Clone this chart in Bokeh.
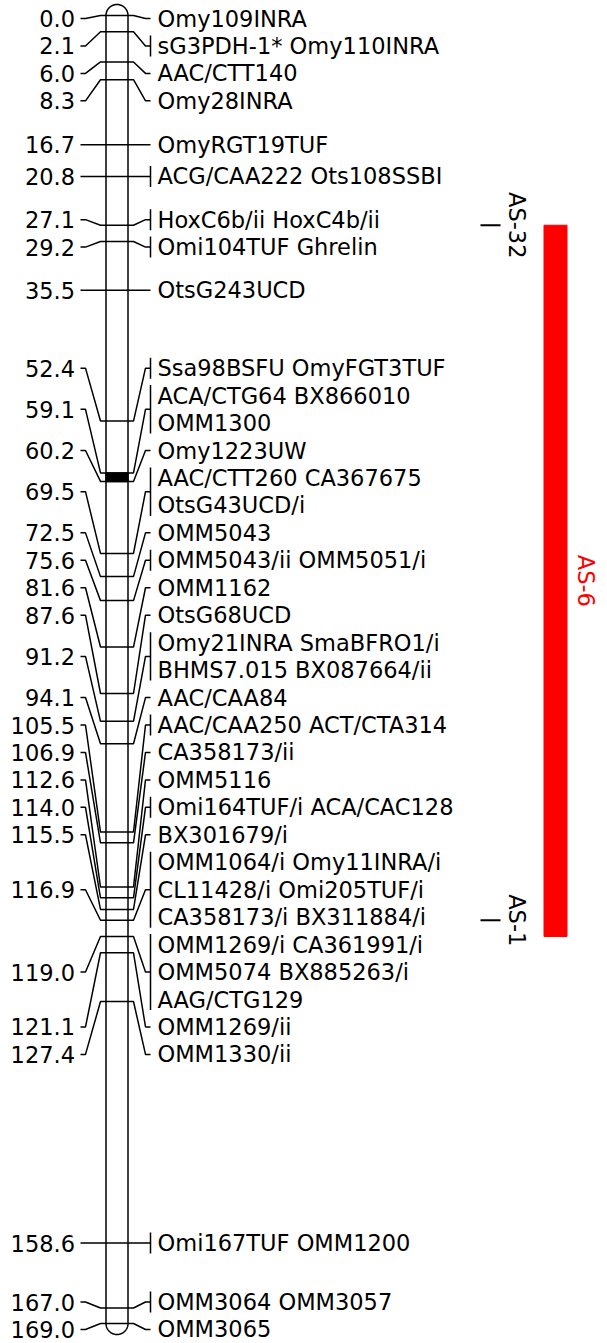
import numpy as np
from bokeh.plotting import figure
from bokeh.models import Range1d, ColumnDataSource
from bokeh.core.properties import value
from bokeh.embed import file_html
from bokeh.resources import INLINE

# ---------------- data ----------------
positions = [0.0, 2.1, 6.0, 8.3, 16.7, 20.8, 27.1, 29.2, 35.5, 52.4, 59.1, 60.2,
             69.5, 72.5, 75.6, 81.6, 87.6, 91.2, 94.1, 105.5, 106.9, 112.6, 114.0,
             115.5, 116.9, 119.0, 121.1, 127.4, 158.6, 167.0, 169.0]

markers = [
    ["Omy109INRA"],
    ["sG3PDH-1*", "Omy110INRA"],
    ["AAC/CTT140"],
    ["Omy28INRA"],
    ["OmyRGT19TUF"],
    ["ACG/CAA222", "Ots108SSBI"],
    ["HoxC6b/ii", "HoxC4b/ii"],
    ["Omi104TUF", "Ghrelin"],
    ["OtsG243UCD"],
    ["Ssa98BSFU", "OmyFGT3TUF"],
    ["ACA/CTG64", "BX866010", "OMM1300"],
    ["Omy1223UW"],
    ["AAC/CTT260", "CA367675", "OtsG43UCD/i"],
    ["OMM5043"],
    ["OMM5043/ii", "OMM5051/i"],
    ["OMM1162"],
    ["OtsG68UCD"],
    ["Omy21INRA", "SmaBFRO1/i", "BHMS7.015", "BX087664/ii"],
    ["AAC/CAA84"],
    ["AAC/CAA250", "ACT/CTA314"],
    ["CA358173/ii"],
    ["OMM5116"],
    ["Omi164TUF/i", "ACA/CAC128"],
    ["BX301679/i"],
    ["OMM1064/i", "Omy11INRA/i", "CL11428/i", "Omi205TUF/i", "CA358173/i", "BX311884/i"],
    ["OMM1269/i", "CA361991/i", "OMM5074", "BX885263/i", "AAG/CTG129"],
    ["OMM1269/ii"],
    ["OMM1330/ii"],
    ["Omi167TUF", "OMM1200"],
    ["OMM3064", "OMM3057"],
    ["OMM3065"],
]

dense_interval = [59.1, 60.2]          # solid black segment on the chromosome
qtl_names = ["AS-32", "AS-1"]
qtl_positions = [27.1, 116.9]
region_name = "AS-6"
region_interval = [27.1, 119.0]

# ---------------- layout ----------------
W, H = 607, 1343
FONT = value("DejaVu Sans")
FS = "22.5px"
y0_px, yend_px = 15.0, 1323.0          # px of chromosome start / end
chrom_len = positions[-1]
k = (yend_px - y0_px) / chrom_len      # px per cM
y_top = -y0_px / k
y_bot = y_top + H / k

LINE_PX = 27.45
s = LINE_PX / k
label_min = 3.0 / k

CH_L, CH_R = 105.5, 127.5
cx = (CH_L + CH_R) / 2
r = (CH_R - CH_L) / 2

# build label lines (2 marker names per line)
group_lines = []
for mk in markers:
    group_lines.append([" ".join(mk[i:i + 2]) for i in range(0, len(mk), 2)])

# blocks of groups: spread overlapping labels
blocks = []
for gi, (pos, lines) in enumerate(zip(positions, group_lines)):
    n = len(lines)
    blocks.append({"groups": [gi], "n": n,
                   "dfirst": pos - (n - 1) / 2 * s,
                   "dlast": pos + (n - 1) / 2 * s})


def btop(b):
    return max(label_min, (b["dfirst"] + b["dlast"]) / 2 - (b["n"] - 1) / 2 * s)


def bbottom(b):
    return btop(b) + (b["n"] - 1) * s


changed = True
while changed:
    changed = False
    for i in range(len(blocks) - 1):
        a, b = blocks[i], blocks[i + 1]
        if btop(b) < bbottom(a) + s - 1e-9:
            blocks[i] = {"groups": a["groups"] + b["groups"], "n": a["n"] + b["n"],
                         "dfirst": a["dfirst"], "dlast": b["dlast"]}
            del blocks[i + 1]
            changed = True
            break

line_y = {}
for b in blocks:
    y = btop(b)
    for gi in b["groups"]:
        ys = []
        for _ in group_lines[gi]:
            ys.append(y)
            y += s
        line_y[gi] = ys

p = figure(width=W, height=H, x_range=Range1d(0, W), y_range=Range1d(y_bot, y_top),
           output_backend="svg", toolbar_location=None, min_border=0,
           x_axis_type=None, y_axis_type=None)
p.grid.visible = False
p.outline_line_color = None
p.background_fill_color = "white"
p.border_fill_color = "white"

LW = 1.5

# chromosome body
t = np.linspace(np.pi, 0, 40)
ry = r / k
xs = [CH_L] + list(cx + r * np.cos(t)) + [CH_R]
ys = [chrom_len] + list(0 - ry * np.sin(t)) + [chrom_len]
tb = np.linspace(0, -np.pi, 40)
xs += list(cx + r * np.cos(tb))
ys += list(chrom_len - ry * np.sin(tb))
p.patch(xs, ys, fill_color="white", line_color="black", line_width=LW)

# dense black segment
p.quad(left=CH_L, right=CH_R, top=dense_interval[0], bottom=dense_interval[1],
       fill_color="black", line_color="black", line_width=LW)

# tick lines across chromosome
p.multi_line(xs=[[CH_L, CH_R] for _ in positions], ys=[[v, v] for v in positions],
             line_color="black", line_width=LW)

# connectors
lxs, lys, rxs, rys = [], [], [], []
bxs, bys = [], []
left_y = []
for gi, pos in enumerate(positions):
    ly = line_y[gi]
    yc = sum(ly) / len(ly)
    left_y.append(yc)
    lxs.append([80, 85, 100, CH_L])
    lys.append([yc, yc, pos, pos])
    rxs.append([CH_R, 133, 145, 150])
    rys.append([pos, pos, yc, yc])
    if len(markers[gi]) > 1:
        bxs.append([150, 150])
        bys.append([ly[0] - 10.5 / k, ly[-1] + 10.5 / k])

p.multi_line(xs=lxs, ys=lys, line_color="black", line_width=LW)
p.multi_line(xs=rxs, ys=rys, line_color="black", line_width=LW)
p.multi_line(xs=bxs, ys=bys, line_color="black", line_width=LW)

# position labels
pos_src = ColumnDataSource(dict(x=[74.5] * len(positions), y=left_y,
                                t=[f"{v:.1f}" for v in positions]))
p.text(x="x", y="y", text="t", source=pos_src, text_align="right",
       text_baseline="middle", text_font=FONT, text_font_size=FS, text_color="black")

# marker labels
mx, my, mt = [], [], []
for gi in range(len(positions)):
    for yy, txt in zip(line_y[gi], group_lines[gi]):
        mx.append(157)
        my.append(yy)
        mt.append(txt)
p.text(x=mx, y=my, text=mt, text_align="left", text_baseline="middle",
       text_font=FONT, text_font_size=FS, text_color="black")

# QTL ticks and names
p.segment(x0=[480] * len(qtl_positions), x1=[500] * len(qtl_positions),
          y0=qtl_positions, y1=qtl_positions, line_color="black", line_width=2)
p.text(x=[516] * len(qtl_positions), y=qtl_positions, text=qtl_names,
       angle=-np.pi / 2, text_align="center", text_baseline="middle",
       text_font=FONT, text_font_size=FS, text_color="black")

# QTL region bar
p.quad(left=543.5, right=566.5, top=region_interval[0], bottom=region_interval[1],
       fill_color="#FF0000", line_color="#FF0000")
p.text(x=[585], y=[(region_interval[0] + region_interval[1]) / 2], text=[region_name],
       angle=-np.pi / 2, text_align="center", text_baseline="middle",
       text_font=FONT, text_font_size=FS, text_color="#FF0000")

open("out.html", "w").write(file_html(p, INLINE))
